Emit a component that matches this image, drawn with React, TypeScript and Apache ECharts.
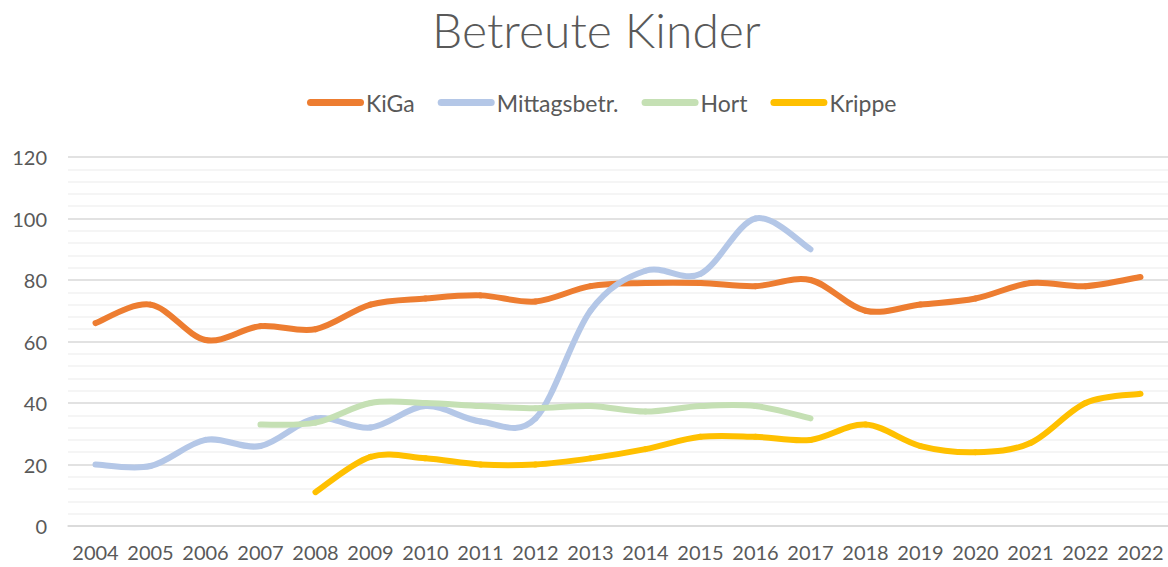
import React, { useEffect, useRef } from "react";
import * as echarts from "echarts";

const years = ["2004","2005","2006","2007","2008","2009","2010","2011","2012","2013","2014","2015","2016","2017","2018","2019","2020","2021","2022","2022"];
const kiga = [66,72,60.5,65,64,72,74,75,73,78,79,79,78,80,70,72,74,79,78,81];
const mittag = [20,19.5,28,26,35,32,39,34,35,70,83,82,100,90,null,null,null,null,null,null];
const hort = [null,null,null,33,33.6,40,40,39,38.3,39,37.2,39,39,35,null,null,null,null,null,null];
const krippe = [null,null,null,null,11,22.5,22,20,20,22,25,29,29,28,33,26,24,27,40,43];
const yTicks = [0,20,40,60,80,100,120];

const FONT = "Lato, 'Open Sans', sans-serif";
const capsule = "path://M3.5,0 H53.5 A3.5,3.5 0 0 1 53.5,7 H3.5 A3.5,3.5 0 0 1 3.5,0 Z";

function toPairs(arr: (number | null)[]) {
  const out: number[][] = [];
  arr.forEach((v, i) => { if (v !== null && v !== undefined) out.push([i, v]); });
  return out;
}

export default function App() {
  const ref = useRef<HTMLDivElement>(null);
  useEffect(() => {
    if (!ref.current) return;
    const chart = echarts.init(ref.current, null, { renderer: "svg" });
    const mk = (name: string, arr: (number | null)[], color: string) => {
      const pts = toPairs(arr);
      return {
        name,
        type: "custom",
        data: pts,
        encode: { x: 0, y: 1 },
        itemStyle: { color },
        renderItem: (params: any, api: any) => {
          const k = params.dataIndex;
          if (k >= pts.length - 1) return { type: "group", children: [] };
          const c = (p: number[]) => api.coord(p);
          const p0 = c(pts[k - 1] || pts[k]);
          const p1 = c(pts[k]);
          const p2 = c(pts[k + 1]);
          const p3 = c(pts[k + 2] || pts[k + 1]);
          return {
            type: "bezierCurve",
            shape: {
              x1: p1[0], y1: p1[1],
              x2: p2[0], y2: p2[1],
              cpx1: p1[0] + (p2[0] - p0[0]) / 6,
              cpy1: p1[1] + (p2[1] - p0[1]) / 6,
              cpx2: p2[0] - (p3[0] - p1[0]) / 6,
              cpy2: p2[1] - (p3[1] - p1[1]) / 6,
            },
            style: { stroke: color, fill: "none", lineWidth: 6, lineCap: "round", lineJoin: "round" },
          };
        },
      };
    };
    chart.setOption({
      animation: false,
      backgroundColor: "#ffffff",
      title: {
        text: "Betreute Kinder",
        left: 427,
        top: 0,
        textStyle: { fontFamily: FONT, fontSize: 48, fontWeight: 300, color: "#595959" },
      },
      legend: {
        top: 86,
        left: 302,
        itemWidth: 57,
        itemHeight: 7,
        itemGap: 23,
        icon: capsule,
        textStyle: { fontFamily: FONT, fontSize: 23, color: "#595959", padding: [0, 0, 0, -3] },
        data: ["KiGa", "Mittagsbetr.", "Hort", "Krippe"],
      },
      grid: { left: 68, right: 0, top: 157, bottom: 41, containLabel: false },
      xAxis: {
        type: "category",
        data: years,
        boundaryGap: true,
        axisTick: { show: false },
        axisLine: { show: true, lineStyle: { color: "#d9d9d9", width: 1.5 } },
        axisLabel: { interval: 0, color: "#595959", fontFamily: FONT, fontSize: 20, margin: 16 },
      },
      yAxis: {
        type: "value",
        min: yTicks[0],
        max: yTicks[yTicks.length - 1],
        interval: 20,
        axisLine: { show: false },
        axisTick: { show: false },
        axisLabel: { color: "#595959", fontFamily: FONT, fontSize: 20, margin: 21 },
        splitLine: { show: true, lineStyle: { color: "#d9d9d9", width: 1.5 } },
        minorTick: { show: false, splitNumber: 5 },
        minorSplitLine: { show: true, lineStyle: { color: "#f2f2f2", width: 1.5 } },
      },
      series: [
        mk("KiGa", kiga, "#ED7D31"),
        mk("Mittagsbetr.", mittag, "#B4C7E7"),
        mk("Hort", hort, "#C5E0B4"),
        mk("Krippe", krippe, "#FFC000"),
      ],
    });
    return () => chart.dispose();
  }, []);
  return <div ref={ref} style={{ position: "fixed", left: 0, top: 0, width: 1168, height: 567 }} />;
}
